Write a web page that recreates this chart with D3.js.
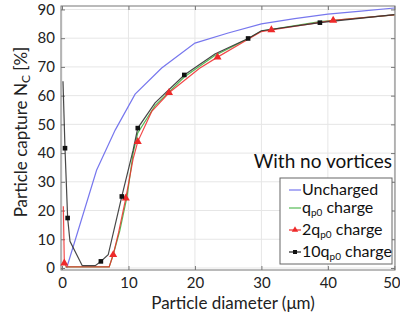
<!DOCTYPE html>
<html>
<head>
<meta charset="utf-8">
<script src="https://cdn.jsdelivr.net/npm/d3@7"></script>
<style>
  body { margin: 0; background: #fff; }
  svg { font-family: Lato, "Open Sans", sans-serif; }
</style>
</head>
<body>
<script>

// uncharged particles (blue)
var unchX = [0.7, 5.2, 8, 11, 15, 20, 25, 30, 35, 40, 45, 50];
var unchY = [0, 34, 48, 60.5, 69.6, 78.3, 81.8, 85, 86.8, 88.4, 89.4, 90.5];

// q_p0 charge (green)
var qX = [0.5, 7.1, 7.7, 8.7, 9.8, 10.7, 11.4, 14, 18.4, 23, 28, 30, 38.8, 50];
var qY = [0.4, 0.4, 4.6, 13, 25, 40, 47, 56.5, 66.5, 74, 79.8, 82.5, 85.8, 88.1];

// 2q_p0 charge (red) + triangle markers
var q2X = [0.2, 0.35, 0.7, 7.1, 7.7, 8.5, 9.6, 10.7, 11.4, 13.5, 16.1, 20.7, 23.4, 28, 30, 31.5, 40.8, 50];
var q2Y = [21.5, 1.7, 0.4, 0.4, 4.6, 12.2, 24.3, 38, 44, 54.5, 61, 69.5, 73.4, 79.6, 82.3, 82.9, 86.2, 88.1];
var q2MarkX = [0.35, 7.7, 9.6, 11.4, 16.1, 23.4, 31.5, 40.8];
var q2MarkY = [1.7, 4.6, 24.3, 44, 61, 73.4, 82.9, 86.2];

// 10q_p0 charge (black) + square markers
var q10X = [0.15, 0.45, 0.85, 1.2, 3.05, 5.0, 5.85, 6.95, 9.0, 10.7, 11.4, 14, 18.4, 23, 28, 30, 38.8, 50];
var q10Y = [65, 41.7, 17.4, 9.3, 0.8, 0.8, 2.3, 4.6, 24.9, 41, 48.7, 57.5, 67.2, 74.5, 79.9, 82.6, 85.4, 88.2];
var q10MarkX = [0.45, 0.85, 5.85, 9.0, 11.4, 18.4, 28, 38.8];
var q10MarkY = [41.7, 17.4, 2.3, 24.9, 48.7, 67.2, 79.9, 85.4];

var xTicks = [0, 10, 20, 30, 40, 50];
var yTicks = [0, 10, 20, 30, 40, 50, 60, 70, 80, 90];

var width = 400, height = 320;
var plot = { left: 61, right: 395, top: 6, bottom: 270 };

var svg = d3.select("body").append("svg")
    .attr("width", width)
    .attr("height", height);

var x = d3.scaleLinear().domain([-0.15, 50.1]).range([plot.left, plot.right]);
var y = d3.scaleLinear().domain([-0.7, 91.2]).range([plot.bottom, plot.top]);

// grid
svg.append("g").selectAll("line.gx")
    .data(xTicks)
    .enter().append("line")
    .attr("x1", d => x(d)).attr("x2", d => x(d))
    .attr("y1", plot.top).attr("y2", plot.bottom)
    .attr("stroke", "#e6e6e6").attr("stroke-width", 1);

svg.append("g").selectAll("line.gy")
    .data(yTicks)
    .enter().append("line")
    .attr("x1", plot.left).attr("x2", plot.right)
    .attr("y1", d => y(d)).attr("y2", d => y(d))
    .attr("stroke", "#e6e6e6").attr("stroke-width", 1);

// axes, ticks pointing inward on all four sides
var axisColor = "#777";
function styleAxis(g) {
    g.select(".domain").remove();
    g.selectAll(".tick line").attr("stroke", axisColor);
    g.selectAll(".tick text").attr("fill", "#222").style("font-size", "15px").style("font-family", "Lato");
}

var xAxisG = svg.append("g")
    .attr("transform", "translate(0," + plot.bottom + ")")
    .call(d3.axisBottom(x).tickValues(xTicks).tickSizeInner(-4).tickPadding(7))
    .call(styleAxis);

// last label sits right at the window edge, nudge it in so it stays whole
xAxisG.selectAll(".tick text").filter(d => d == 50).attr("dx", "-3");

svg.append("g")
    .attr("transform", "translate(" + plot.left + ",0)")
    .call(d3.axisLeft(y).tickValues(yTicks).tickSizeInner(-4).tickPadding(6))
    .call(styleAxis);

svg.append("g")
    .attr("transform", "translate(0," + plot.top + ")")
    .call(d3.axisTop(x).tickValues(xTicks).tickSizeInner(-4).tickFormat(""))
    .call(styleAxis);

svg.append("g")
    .attr("transform", "translate(" + plot.right + ",0)")
    .call(d3.axisRight(y).tickValues(yTicks).tickSizeInner(-4).tickFormat(""))
    .call(styleAxis);

svg.append("rect")
    .attr("x", plot.left).attr("y", plot.top)
    .attr("width", plot.right - plot.left).attr("height", plot.bottom - plot.top)
    .attr("fill", "none").attr("stroke", axisColor).attr("stroke-width", 1);

// lines
function drawLine(xs, ys, color, opacity) {
    var pts = xs.map((d, i) => [d, ys[i]]);
    svg.append("path")
        .datum(pts)
        .attr("d", d3.line().x(d => x(d[0])).y(d => y(d[1])))
        .attr("fill", "none")
        .attr("stroke", color)
        .attr("stroke-opacity", opacity)
        .attr("stroke-width", 1.2);
}

drawLine(unchX, unchY, "#7777ee", 1);
drawLine(qX, qY, "#55bb55", 1);
drawLine(q2X, q2Y, "#ee2a2a", 0.85);
drawLine(q10X, q10Y, "#333", 0.9);

// markers
var tri = d3.symbol().type(d3.symbolTriangle).size(28);
svg.append("g").selectAll("path")
    .data(q2MarkX)
    .enter().append("path")
    .attr("d", tri)
    .attr("transform", (d, i) => "translate(" + x(d) + "," + y(q2MarkY[i]) + ")")
    .attr("fill", "#ee2a2a");

svg.append("g").selectAll("rect")
    .data(q10MarkX)
    .enter().append("rect")
    .attr("x", d => x(d) - 2.3)
    .attr("y", (d, i) => y(q10MarkY[i]) - 2.3)
    .attr("width", 4.6).attr("height", 4.6)
    .attr("fill", "#111");

// axis titles
svg.append("text")
    .attr("x", 233)
    .attr("y", 309)
    .attr("text-anchor", "middle")
    .attr("fill", "#222")
    .style("font-size", "17px")
    .text("Particle diameter (μm)");

var yTitle = svg.append("text")
    .attr("transform", "translate(27,132) rotate(-90)")
    .attr("text-anchor", "middle")
    .attr("fill", "#222")
    .style("font-size", "17px");
yTitle.append("tspan").text("Particle capture N");
yTitle.append("tspan").attr("baseline-shift", "-25%").style("font-size", "12px").text("C");
yTitle.append("tspan").text(" [%]");

// annotation
svg.append("text")
    .attr("x", 392)
    .attr("y", 168)
    .attr("text-anchor", "end")
    .attr("fill", "#111")
    .style("font-size", "19px")
    .text("With no vortices");

// legend
var legend = svg.append("g");
legend.append("rect")
    .attr("x", 280).attr("y", 178)
    .attr("width", 112).attr("height", 86)
    .attr("fill", "#fff").attr("stroke", "#666").attr("stroke-width", 1);

var legendNames = ["Uncharged", "q", "2q", "10q"];
var legendColors = ["#7777ee", "#55bb55", "#ee2a2a", "#222"];
var legendRows = [190, 208, 230, 252];

legendNames.forEach(function(name, i) {
    var ly = legendRows[i];
    legend.append("line")
        .attr("x1", 289).attr("x2", 301)
        .attr("y1", ly).attr("y2", ly)
        .attr("stroke", legendColors[i]).attr("stroke-width", 1.2);
    if (i == 2) {
        legend.append("path").attr("d", d3.symbol().type(d3.symbolTriangle).size(18))
            .attr("transform", "translate(295," + ly + ")").attr("fill", "#ee2a2a");
    }
    if (i == 3) {
        legend.append("rect").attr("x", 293).attr("y", ly - 2).attr("width", 4).attr("height", 4).attr("fill", "#111");
    }
    var t = legend.append("text")
        .attr("x", 302).attr("y", ly + 5)
        .attr("fill", "#111")
        .style("font-size", "16px");
    t.append("tspan").text(name);
    if (i > 0) {
        t.append("tspan").attr("baseline-shift", "-30%").style("font-size", "10px").text("p0");
        t.append("tspan").text(" charge");
    }
});

</script>
</body>
</html>
